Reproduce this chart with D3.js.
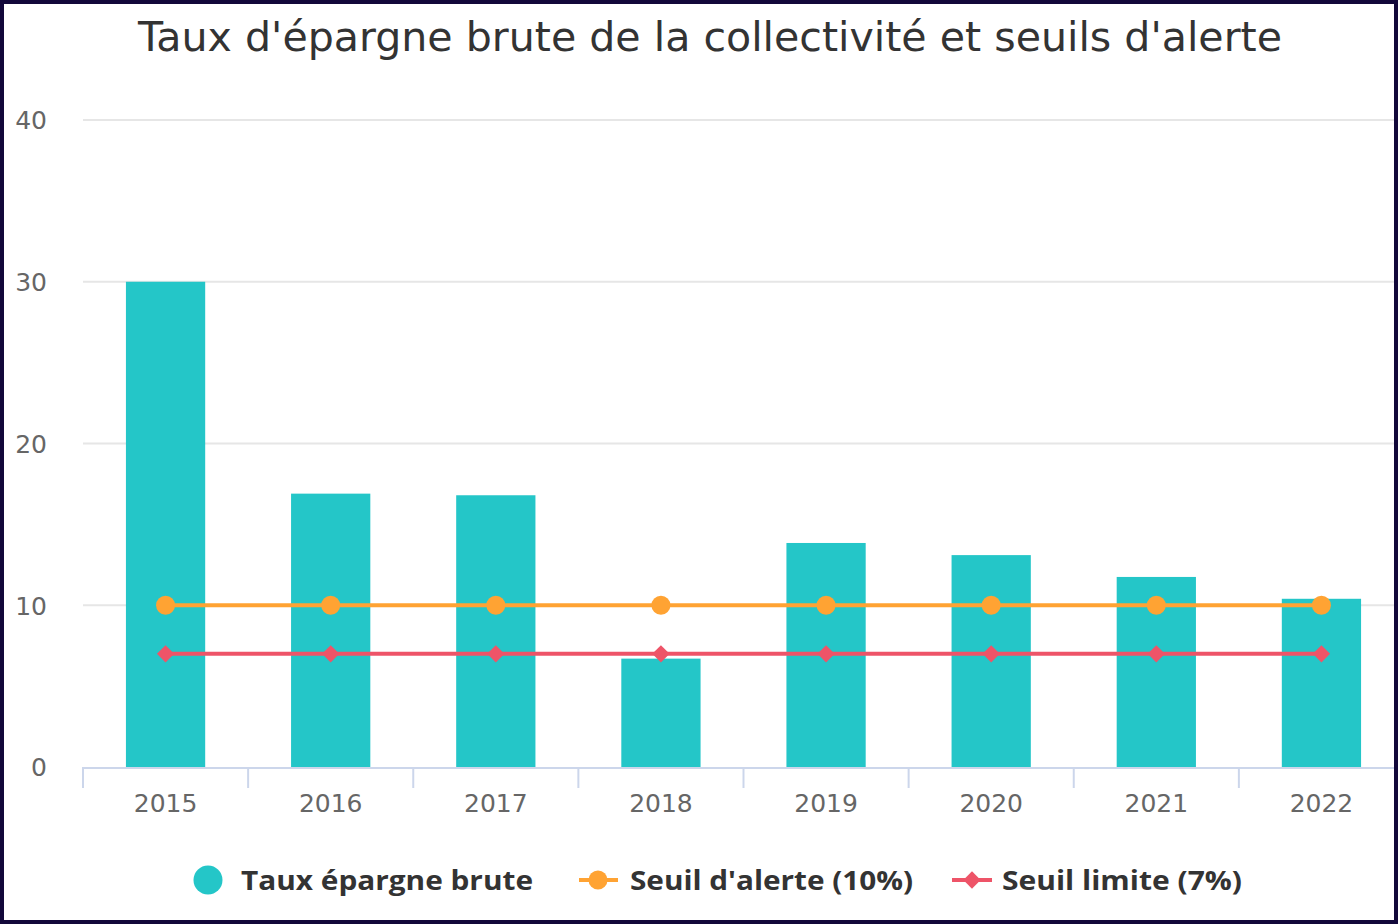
<!DOCTYPE html>
<html lang="fr">
<head>
<meta charset="utf-8">
<title>Taux d'épargne brute</title>
<script src="https://d3js.org/d3.v7.min.js"></script>
<style>
  body { margin: 0; background: #fff; }
  .grid line { stroke: #e6e6e6; stroke-width: 2px; }
  .axis text { font-family: 'DejaVu Sans', Verdana, sans-serif; font-size: 25px; fill: #666; }
</style>
</head>
<body>
<div id="chart"></div>
<script>
// data
var years = ["2015", "2016", "2017", "2018", "2019", "2020", "2021", "2022"]
var epargne = [30.0, 16.9, 16.8, 6.7, 13.85, 13.1, 11.75, 10.4]
var seuilAlerte = [10, 10, 10, 10, 10, 10, 10, 10]
var seuilLimite = [7, 7, 7, 7, 7, 7, 7, 7]
var yTicks = [0, 10, 20, 30, 40]
var legendLabels = ["Taux épargne brute", "Seuil d'alerte (10%)", "Seuil limite (7%)"]

var w = 1398, h = 924
var teal = "#24c6c8", orange = "#ffa333", red = "#ee5468"

var svg = d3.select("#chart").append("svg")
    .attr("width", w).attr("height", h)

var x = d3.scaleBand().domain(years).range([83, 1404]).padding(0)
var y = d3.scaleLinear().domain([0, 40]).range([767, 120])

// gridlines
svg.append("g").attr("class", "grid")
    .selectAll("line").data(yTicks.slice(1)).enter().append("line")
    .attr("x1", 83).attr("x2", w)
    .attr("y1", function(d) { return y(d) }).attr("y2", function(d) { return y(d) })

// y labels
var yAxis = d3.axisLeft(y).tickValues(yTicks).tickSize(0).tickPadding(0)
svg.append("g").attr("class", "axis")
    .attr("transform", "translate(47,0)")
    .call(yAxis)
    .call(function(g) { g.select(".domain").remove() })
    .selectAll("text").attr("dy", "0.35em")

// bars
var barW = x.bandwidth() * 0.48
svg.append("g").selectAll("rect").data(epargne).enter().append("rect")
    .attr("x", function(d, i) { return x(years[i]) + (x.bandwidth() - barW) / 2 })
    .attr("y", function(d) { return y(d) })
    .attr("width", barW)
    .attr("height", function(d) { return y(0) - y(d) })
    .attr("fill", teal)

// x axis
var xAxis = d3.axisBottom(x).tickSize(0).tickPadding(27)
var xg = svg.append("g").attr("class", "axis")
    .attr("transform", "translate(0," + y(0) + ")")
    .call(xAxis)
xg.select(".domain").remove()
xg.append("line").attr("x1", 83).attr("x2", w).attr("y1", 1).attr("y2", 1)
    .attr("stroke", "#ccd6eb").attr("stroke-width", 2)
xg.selectAll(".bound").data(years).enter().append("line")
    .attr("x1", function(d) { return x(d) }).attr("x2", function(d) { return x(d) })
    .attr("y1", 0).attr("y2", 21)
    .attr("stroke", "#ccd6eb").attr("stroke-width", 2)

// lines
var cx = function(i) { return x(years[i]) + x.bandwidth() / 2 }
var line = d3.line().x(function(d, i) { return cx(i) }).y(function(d) { return y(d) })

svg.append("path").datum(seuilAlerte).attr("d", line)
    .attr("fill", "none").attr("stroke", orange).attr("stroke-width", 4)
svg.append("g").selectAll("circle").data(seuilAlerte).enter().append("circle")
    .attr("cx", function(d, i) { return cx(i) }).attr("cy", function(d) { return y(d) })
    .attr("r", 9.5).attr("fill", orange)

svg.append("path").datum(seuilLimite).attr("d", line)
    .attr("fill", "none").attr("stroke", red).attr("stroke-width", 4)
var diamond = d3.symbol().type(d3.symbolDiamond2).size(190)
svg.append("g").selectAll("path").data(seuilLimite).enter().append("path")
    .attr("d", diamond)
    .attr("transform", function(d, i) { return "translate(" + cx(i) + "," + y(d) + ")" })
    .attr("fill", red)

// title
svg.append("text")
    .attr("x", 710).attr("y", 51)
    .attr("text-anchor", "middle")
    .attr("textLength", 1144).attr("lengthAdjust", "spacingAndGlyphs")
    .style("font-family", "'DejaVu Sans', Verdana, sans-serif")
    .style("font-size", "41px")
    .attr("fill", "#333")
    .text("Taux d'épargne brute de la collectivité et seuils d'alerte")

// legend
var ly = 880
var leg = svg.append("g").style("font-family", "'Open Sans', sans-serif")
    .style("font-size", "26px").style("font-weight", "bold").attr("fill", "#333")

leg.append("circle").attr("cx", 208).attr("cy", ly).attr("r", 14.5).attr("fill", teal)
leg.append("text").attr("x", 241).attr("y", ly + 10).attr("textLength", 292)
    .attr("lengthAdjust", "spacingAndGlyphs").text(legendLabels[0])

leg.append("line").attr("x1", 579).attr("x2", 618).attr("y1", ly).attr("y2", ly)
    .attr("stroke", orange).attr("stroke-width", 4)
leg.append("circle").attr("cx", 598).attr("cy", ly).attr("r", 9.5).attr("fill", orange)
leg.append("text").attr("x", 630).attr("y", ly + 10).attr("textLength", 283)
    .attr("lengthAdjust", "spacingAndGlyphs").text(legendLabels[1])

leg.append("line").attr("x1", 952).attr("x2", 992).attr("y1", ly).attr("y2", ly)
    .attr("stroke", red).attr("stroke-width", 4)
leg.append("path").attr("d", diamond).attr("transform", "translate(972," + ly + ")").attr("fill", red)
leg.append("text").attr("x", 1002).attr("y", ly + 10).attr("textLength", 240)
    .attr("lengthAdjust", "spacingAndGlyphs").text(legendLabels[2])

// frame
svg.append("rect").attr("x", 2).attr("y", 2).attr("width", w - 4).attr("height", h - 4)
    .attr("fill", "none").attr("stroke", "#12083a").attr("stroke-width", 4)
</script>
</body>
</html>
